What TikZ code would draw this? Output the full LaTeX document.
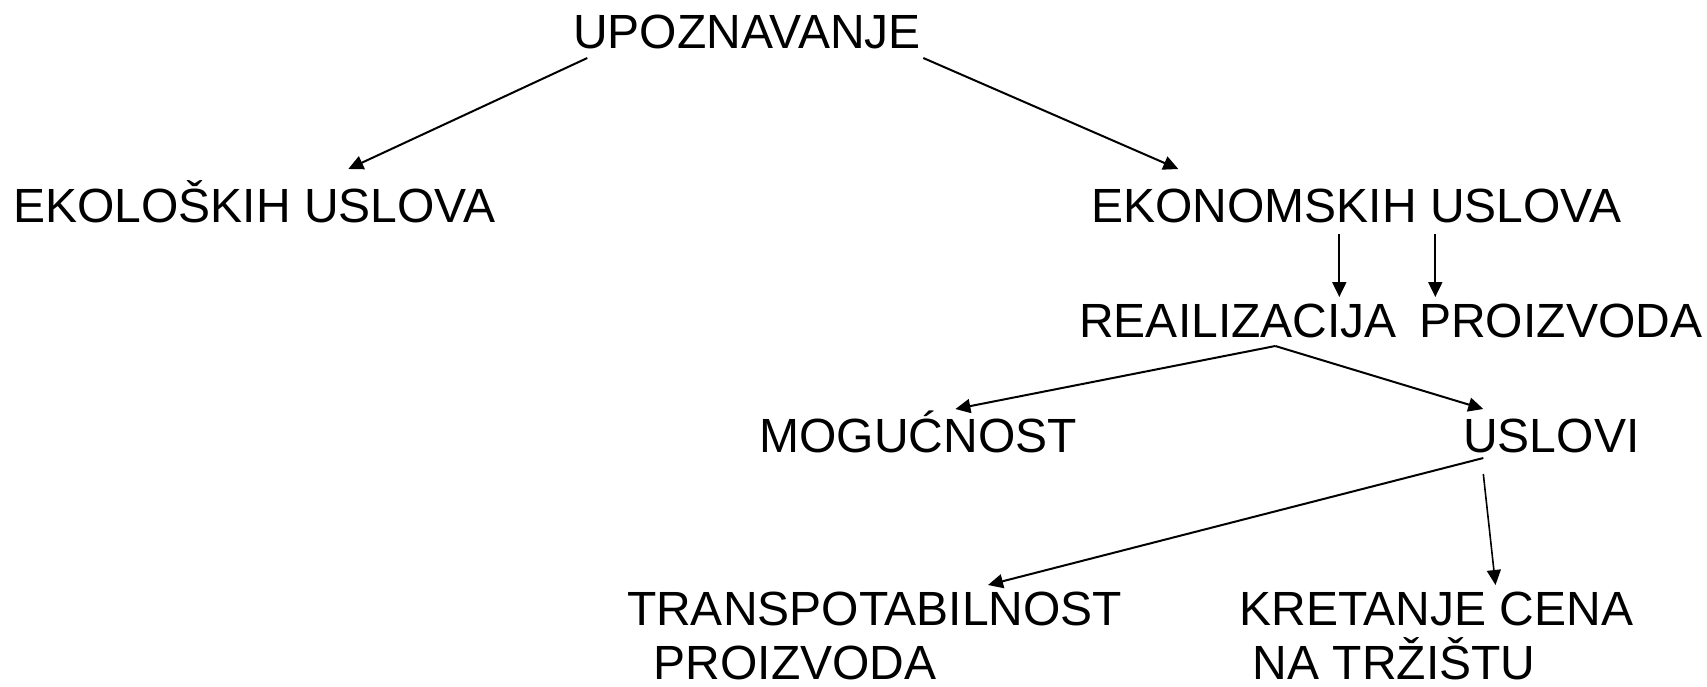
\documentclass[tikz,border=0pt]{standalone}
\usepackage{fontspec}
\setmainfont{Liberation Sans}
\usetikzlibrary{arrows.meta}
\begin{document}
\begin{tikzpicture}[x=1pt,y=-1pt,
  lbl/.style={anchor=base west, inner sep=0pt, outer sep=0pt,
    font=\fontsize{48}{55}\selectfont},
  link/.style={line width=2pt, -{Triangle[length=15pt,width=14pt]}}]
\useasboundingbox (0,0) rectangle (1707,686);

% labels, placed by their baseline origin
\node[lbl] (upoz)  at (573.3,48)  {UPOZNAVANJE};
\node[lbl] (ekol)  at (13.3,222)  {EKOLOŠKIH USLOVA};
\node[lbl] (ekon)  at (1091.3,222) {EKONOMSKIH USLOVA};
\node[lbl] (real)  at (1079.3,337) {REAILIZACIJA};
\node[lbl] (proiz) at (1419.3,337) {PROIZVODA};
\node[lbl] (mog)   at (759.4,452) {MOGUĆNOST};
\node[lbl] (usl)   at (1463.3,452) {USLOVI};
\node[lbl] (trans) at (627,625) {TRANSPOTABILNOST};
\node[lbl] (transb) at (627,679) {\hspace*{0.556em}PROIZVODA};
\node[lbl] (kret)  at (1239.5,625) {KRETANJE CENA};
\node[lbl] (kretb) at (1239.5,679) {\hspace*{0.278em}NA TRŽIŠTU};

% connectors
\draw[link] ([shift={(14,10)}]upoz.base west) -- ([shift={(335,-53)}]ekol.base west);
\draw[link] ([shift={(350,10)}]upoz.base west) -- ([shift={(87,-53)}]ekon.base west);
\draw[link] ([shift={(248,12)}]ekon.base west) -- ([shift={(260,-40)}]real.base west);
\draw[link] ([shift={(344,12)}]ekon.base west) -- ([shift={(16,-40)}]proiz.base west);
\draw[link] ([shift={(196,9)}]real.base west) -- ([shift={(196,-43)}]mog.base west);
\draw[link] ([shift={(196,9)}]real.base west) -- ([shift={(20,-43)}]usl.base west);
\draw[link] ([shift={(20,6)}]usl.base west) -- ([shift={(361,-40)}]trans.base west);
\draw[link, line width=1.6pt] ([shift={(20,22)}]usl.base west) -- ([shift={(256,-40)}]kret.base west);
\end{tikzpicture}
\end{document}
